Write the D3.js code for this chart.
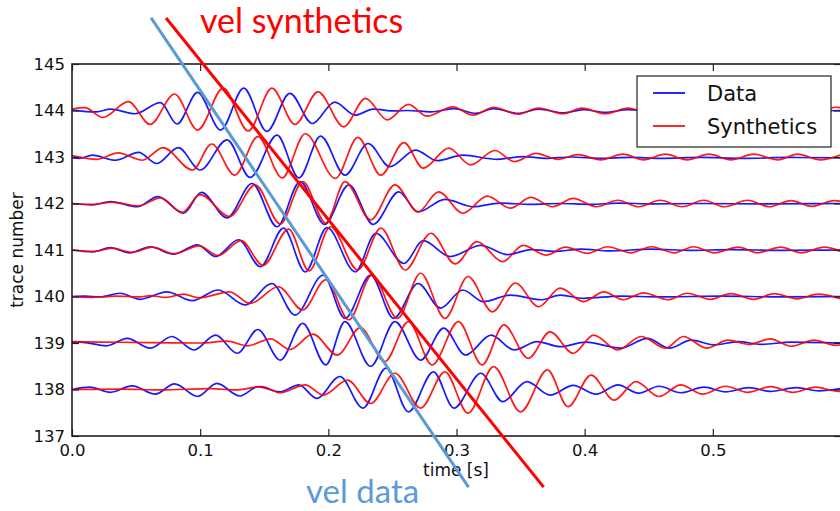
<!DOCTYPE html>
<html>
<head>
<meta charset="utf-8">
<script src="https://cdn.jsdelivr.net/npm/d3@7"></script>
<style>
  body { margin: 0; background: #fff; }
  svg { display: block; }
</style>
</head>
<body>
<svg id="chart" width="840" height="511"></svg>
<script>
// ---- data -------------------------------------------------------------
const traceNumbers = [144, 143, 142, 141, 140, 139, 138];
const xTickValues = [0.0, 0.1, 0.2, 0.3, 0.4, 0.5];
const yTickValues = [137, 138, 139, 140, 141, 142, 143, 144, 145];
const seriesNames = ["Data", "Synthetics"];

// waveform turning points: [time (s), amplitude (trace units)]
const data144 = [[0,0.01],[0.019,-0.03],[0.030,0.03],[0.049,-0.07],[0.069,0.17],[0.082,-0.29],[0.098,0.39],[0.116,-0.42],[0.134,0.48],[0.152,-0.45],[0.170,0.37],[0.1875,-0.28],[0.205,0.18],[0.221,-0.10],[0.235,0.03],[0.252,-0.01],[0.262,0.0],[0.280,-0.03],[0.298,0.04],[0.315,-0.06],[0.329,0.04],[0.348,-0.06],[0.364,0.03],[0.384,-0.05],[0.399,0.02],[0.416,-0.04],[0.434,0.02],[0.452,-0.02],[0.475,0.01],[0.506,-0.01],[0.5375,0.01],[0.569,-0.01],[0.6,0.0]];
const synth144 = [[0,0.03],[0.010,0.06],[0.024,-0.15],[0.044,0.19],[0.061,-0.30],[0.080,0.355],[0.098,-0.42],[0.118,0.48],[0.1375,-0.44],[0.156,0.48],[0.174,-0.30],[0.192,0.40],[0.212,-0.35],[0.229,0.26],[0.246,-0.20],[0.2625,0.13],[0.277,-0.12],[0.297,0.08],[0.313,-0.10],[0.329,0.07],[0.348,-0.08],[0.364,0.05],[0.383,-0.07],[0.398,0.05],[0.416,-0.07],[0.434,0.05],[0.450,-0.06],[0.4665,0.05],[0.483,-0.06],[0.499,0.05],[0.515,-0.06],[0.5315,0.05],[0.548,-0.05],[0.564,0.05],[0.580,-0.05],[0.596,0.07],[0.6,0.06]];

const data143 = [[0,-0.02],[0.006,-0.03],[0.016,0.04],[0.034,-0.07],[0.052,0.10],[0.066,-0.14],[0.083,0.20],[0.100,-0.28],[0.121,0.37],[0.139,-0.44],[0.160,0.47],[0.177,-0.45],[0.194,0.45],[0.213,-0.39],[0.231,0.29],[0.248,-0.21],[0.268,0.15],[0.285,-0.08],[0.305,0.04],[0.332,-0.05],[0.352,0.01],[0.370,-0.03],[0.389,0.0],[0.4125,-0.03],[0.436,-0.01],[0.459,-0.03],[0.491,-0.01],[0.522,-0.03],[0.561,-0.01],[0.6,-0.02]];
const synth143 = [[0,0.03],[0.0195,-0.05],[0.036,0.09],[0.055,-0.07],[0.071,0.20],[0.094,-0.28],[0.109,0.28],[0.127,-0.39],[0.145,0.44],[0.164,-0.45],[0.182,0.50],[0.2055,-0.46],[0.223,0.42],[0.241,-0.39],[0.259,0.31],[0.274,-0.24],[0.294,0.19],[0.311,-0.17],[0.330,0.14],[0.345,-0.10],[0.362,0.08],[0.379,-0.05],[0.395,0.05],[0.4125,-0.06],[0.430,0.06],[0.446,-0.06],[0.463,0.06],[0.480,-0.06],[0.497,0.06],[0.514,-0.06],[0.532,0.06],[0.551,-0.06],[0.566,0.06],[0.584,-0.06],[0.6,0.05]];

const data142 = [[0,0],[0.016,-0.03],[0.030,0.04],[0.051,-0.07],[0.067,0.15],[0.087,-0.21],[0.101,0.24],[0.121,-0.31],[0.1405,0.43],[0.160,-0.50],[0.178,0.47],[0.197,-0.45],[0.216,0.40],[0.235,-0.45],[0.255,0.25],[0.270,-0.18],[0.291,0.09],[0.313,-0.07],[0.334,0.01],[0.358,-0.02],[0.381,0.0],[0.405,-0.02],[0.426,0.01],[0.452,-0.01],[0.491,0.0],[0.5375,-0.01],[0.6,0]];
const synth142 = [[0,0],[0.016,-0.02],[0.031,0.03],[0.052,-0.05],[0.069,0.12],[0.086,-0.19],[0.100,0.19],[0.123,-0.28],[0.143,0.40],[0.1625,-0.44],[0.180,0.47],[0.198,-0.42],[0.213,0.47],[0.233,-0.35],[0.252,0.40],[0.270,-0.18],[0.286,0.25],[0.305,-0.21],[0.324,0.16],[0.342,-0.10],[0.358,0.13],[0.375,-0.07],[0.391,0.11],[0.409,-0.07],[0.426,0.07],[0.442,-0.07],[0.459,0.07],[0.476,-0.07],[0.493,0.07],[0.509,-0.07],[0.527,0.07],[0.544,-0.07],[0.561,0.06],[0.577,-0.06],[0.595,0.06],[0.6,0.05]];

const data141 = [[0,0],[0.016,-0.04],[0.030,0.05],[0.045,-0.06],[0.061,0.07],[0.079,-0.09],[0.098,0.11],[0.112,-0.14],[0.130,0.22],[0.147,-0.36],[0.165,0.47],[0.182,-0.47],[0.199,0.48],[0.221,-0.47],[0.237,0.36],[0.259,-0.29],[0.274,0.20],[0.295,-0.14],[0.319,0.10],[0.340,-0.10],[0.358,0.01],[0.377,-0.03],[0.397,0.02],[0.420,-0.02],[0.452,0.02],[0.483,-0.01],[0.514,0.01],[0.553,-0.01],[0.6,0]];
const synth141 = [[0,0],[0.018,-0.03],[0.031,0.04],[0.047,-0.05],[0.0625,0.06],[0.080,-0.08],[0.099,0.09],[0.114,-0.12],[0.132,0.20],[0.149,-0.33],[0.169,0.45],[0.185,-0.45],[0.2016,0.50],[0.223,-0.43],[0.241,0.47],[0.260,-0.43],[0.280,0.36],[0.299,-0.30],[0.316,0.18],[0.336,-0.25],[0.352,0.10],[0.370,-0.11],[0.385,0.06],[0.402,-0.07],[0.418,0.07],[0.436,-0.06],[0.452,0.07],[0.470,-0.06],[0.485,0.07],[0.501,-0.06],[0.520,0.06],[0.535,-0.06],[0.553,0.06],[0.569,-0.06],[0.587,0.06],[0.6,-0.03]];

const data140 = [[0,0],[0.010,0.01],[0.022,-0.01],[0.0375,0.07],[0.053,-0.06],[0.074,0.10],[0.094,-0.09],[0.114,0.14],[0.135,-0.18],[0.156,0.28],[0.174,-0.40],[0.196,0.46],[0.213,-0.47],[0.233,0.46],[0.251,-0.47],[0.270,0.28],[0.2875,-0.25],[0.305,0.14],[0.321,-0.11],[0.342,0.03],[0.366,-0.07],[0.381,0.03],[0.399,-0.04],[0.428,0.01],[0.459,-0.01],[0.506,0.01],[0.553,-0.01],[0.6,0]];
const synth140 = [[0,0],[0.014,-0.02],[0.034,0.01],[0.053,-0.01],[0.061,0.02],[0.073,-0.02],[0.087,0.05],[0.099,-0.03],[0.123,0.10],[0.139,-0.15],[0.161,0.21],[0.180,-0.29],[0.198,0.36],[0.216,-0.50],[0.234,0.46],[0.254,-0.47],[0.272,0.50],[0.291,-0.47],[0.309,0.43],[0.328,-0.33],[0.346,0.29],[0.364,-0.22],[0.381,0.18],[0.399,-0.11],[0.415,0.10],[0.430,-0.07],[0.446,0.08],[0.465,-0.07],[0.480,0.07],[0.498,-0.06],[0.514,0.06],[0.532,-0.06],[0.548,0.06],[0.566,-0.05],[0.582,0.05],[0.6,-0.05]];

const data139 = [[0,0.02],[0.006,0.02],[0.027,-0.06],[0.043,0.10],[0.061,-0.11],[0.078,0.14],[0.095,-0.15],[0.112,0.17],[0.129,-0.22],[0.145,0.29],[0.1625,-0.37],[0.180,0.42],[0.198,-0.47],[0.213,0.46],[0.233,-0.50],[0.252,0.46],[0.272,-0.37],[0.290,0.32],[0.307,-0.26],[0.327,0.17],[0.345,-0.15],[0.363,0.03],[0.381,-0.08],[0.401,0.02],[0.428,-0.11],[0.449,0.10],[0.466,-0.11],[0.483,0.06],[0.501,-0.04],[0.520,0.03],[0.5375,-0.03],[0.561,0.02],[0.6,0]];
const synth139 = [[0,0.03],[0.022,0.02],[0.061,0.01],[0.100,0.0],[0.121,0.04],[0.137,-0.06],[0.155,0.09],[0.170,-0.14],[0.188,0.19],[0.207,-0.26],[0.225,0.33],[0.244,-0.40],[0.2625,0.46],[0.281,-0.47],[0.3015,0.46],[0.320,-0.47],[0.337,0.39],[0.356,-0.33],[0.373,0.24],[0.391,-0.22],[0.407,0.17],[0.426,-0.15],[0.444,0.14],[0.463,-0.11],[0.477,0.14],[0.495,-0.11],[0.512,0.06],[0.528,-0.03],[0.545,0.09],[0.561,-0.07],[0.579,0.06],[0.596,-0.05],[0.6,-0.04]];

const data138 = [[0,0],[0.014,0.05],[0.030,-0.06],[0.047,0.08],[0.065,-0.10],[0.080,0.12],[0.098,-0.15],[0.113,0.13],[0.131,-0.14],[0.145,0.06],[0.1625,-0.05],[0.177,0.10],[0.191,-0.19],[0.209,0.28],[0.227,-0.40],[0.245,0.46],[0.2625,-0.48],[0.282,0.38],[0.298,-0.40],[0.319,0.35],[0.336,-0.26],[0.355,0.17],[0.373,-0.12],[0.391,0.09],[0.409,-0.10],[0.426,0.10],[0.442,-0.08],[0.458,0.07],[0.475,-0.07],[0.493,0.05],[0.510,-0.05],[0.528,0.04],[0.545,-0.04],[0.565,0.04],[0.583,-0.03],[0.6,0.02]];
const synth138 = [[0,0],[0.0375,0.01],[0.069,-0.01],[0.108,0.02],[0.127,-0.01],[0.148,0.06],[0.1625,-0.07],[0.182,0.10],[0.196,-0.12],[0.215,0.20],[0.233,-0.30],[0.252,0.35],[0.272,-0.40],[0.291,0.38],[0.309,-0.51],[0.329,0.49],[0.350,-0.48],[0.371,0.42],[0.387,-0.37],[0.405,0.31],[0.423,-0.23],[0.440,0.17],[0.458,-0.15],[0.475,0.10],[0.492,-0.10],[0.510,0.07],[0.527,-0.06],[0.545,0.06],[0.5625,-0.06],[0.580,0.05],[0.598,-0.04],[0.6,-0.04]];

const dataTraces = [data144, data143, data142, data141, data140, data139, data138];
const synthTraces = [synth144, synth143, synth142, synth141, synth140, synth139, synth138];

// hand-drawn move-out guides: [time (s), trace]
const velSynthGuide = [[0.0734, 145.99], [0.368, 135.9]];
const velDataGuide = [[0.0617, 145.99], [0.3094, 135.9]];

// ---- layout -----------------------------------------------------------
const plot = { left: 72, right: 841, top: 64, bottom: 436 };
const colData = "#0000ff", colSynth = "#ff0000";
const colGuideBlue = "#5b9bd5", colGuideRed = "#ff0000";
const tickFont = "DejaVu Sans, sans-serif";
const noteFont = "Lato, sans-serif";

const svg = d3.select("#chart");

const x = d3.scaleLinear().domain([0, 0.6]).range([plot.left, plot.right]);
const y = d3.scaleLinear().domain([137, 145]).range([plot.bottom, plot.top]);

svg.append("defs").append("clipPath").attr("id", "plotClip")
  .append("rect")
  .attr("x", plot.left).attr("y", plot.top)
  .attr("width", plot.right - plot.left).attr("height", plot.bottom - plot.top);

// ---- traces -----------------------------------------------------------
const traceLayer = svg.append("g").attr("clip-path", "url(#plotClip)");

traceNumbers.forEach((tn, i) => {
  const line = d3.line()
    .x(d => x(d[0]))
    .y(d => y(tn + d[1]))
    .curve(d3.curveMonotoneX);
  traceLayer.append("path")
    .datum(dataTraces[i])
    .attr("d", line)
    .attr("fill", "none")
    .attr("stroke", colData)
    .attr("stroke-width", 1.7)
    .attr("stroke-opacity", 0.9);
  traceLayer.append("path")
    .datum(synthTraces[i])
    .attr("d", line)
    .attr("fill", "none")
    .attr("stroke", colSynth)
    .attr("stroke-width", 1.7)
    .attr("stroke-opacity", 0.9);
});

// ---- axes (matplotlib style: inward ticks, closed frame) -------------
const tickLen = 7;

const xAxisB = svg.append("g")
  .attr("transform", `translate(0,${plot.bottom})`)
  .call(d3.axisBottom(x).tickValues(xTickValues).tickFormat(d3.format(".1f"))
        .tickSizeInner(-tickLen).tickSizeOuter(0).tickPadding(8));
const xAxisT = svg.append("g")
  .attr("transform", `translate(0,${plot.top})`)
  .call(d3.axisTop(x).tickValues(xTickValues).tickFormat(""))
  .call(g => g.selectAll(".tick line").attr("y2", tickLen));
const yAxisL = svg.append("g")
  .attr("transform", `translate(${plot.left},0)`)
  .call(d3.axisLeft(y).tickValues(yTickValues).tickFormat(d3.format("d"))
        .tickSizeInner(-tickLen).tickSizeOuter(0).tickPadding(7));
const yAxisR = svg.append("g")
  .attr("transform", `translate(${plot.right},0)`)
  .call(d3.axisRight(y).tickValues(yTickValues).tickFormat(""))
  .call(g => g.selectAll(".tick line").attr("x2", -tickLen));

[xAxisB, xAxisT, yAxisL, yAxisR].forEach(g => {
  g.select(".domain").remove();
  g.selectAll(".tick line").attr("stroke", "#222").attr("stroke-width", 1.2);
  g.selectAll(".tick text")
    .attr("fill", "#111")
    .style("font-family", tickFont)
    .style("font-size", "16.5px");
});

// frame
svg.append("rect")
  .attr("x", plot.left).attr("y", plot.top)
  .attr("width", plot.right - plot.left).attr("height", plot.bottom - plot.top)
  .attr("fill", "none").attr("stroke", "#222").attr("stroke-width", 1.6);

// axis titles
svg.append("text")
  .attr("x", (plot.left + 840) / 2).attr("y", 476)
  .attr("text-anchor", "middle")
  .style("font-family", tickFont).style("font-size", "17px").attr("fill", "#111")
  .text("time [s]");
svg.append("text")
  .attr("transform", `translate(23,${(plot.top + plot.bottom) / 2}) rotate(-90)`)
  .attr("text-anchor", "middle")
  .style("font-family", tickFont).style("font-size", "17px").attr("fill", "#111")
  .text("trace number");

// ---- legend -----------------------------------------------------------
const legend = svg.append("g").attr("transform", "translate(637,76)");
legend.append("rect")
  .attr("width", 194).attr("height", 71)
  .attr("fill", "#fff").attr("stroke", "#222").attr("stroke-width", 1.2);
[colData, colSynth].forEach((c, i) => {
  const yy = 17 + i * 33;
  legend.append("line")
    .attr("x1", 16).attr("x2", 48).attr("y1", yy).attr("y2", yy)
    .attr("stroke", c).attr("stroke-width", 1.7);
  legend.append("text")
    .attr("x", 70).attr("y", yy + 7.5)
    .style("font-family", tickFont).style("font-size", "21px").attr("fill", "#111")
    .text(seriesNames[i]);
});

// ---- move-out guides and their labels --------------------------------
const guide = d3.line().x(d => x(d[0])).y(d => y(d[1]));
svg.append("path").attr("d", guide(velDataGuide))
  .attr("stroke", colGuideBlue).attr("stroke-width", 3).attr("fill", "none");
svg.append("path").attr("d", guide(velSynthGuide))
  .attr("stroke", colGuideRed).attr("stroke-width", 3).attr("fill", "none");

svg.append("text")
  .attr("x", 200).attr("y", 33)
  .style("font-family", noteFont).style("font-size", "34px")
  .attr("fill", colGuideRed)
  .text("vel synthetics");
svg.append("text")
  .attr("x", 306).attr("y", 503)
  .style("font-family", noteFont).style("font-size", "33px")
  .attr("fill", colGuideBlue)
  .text("vel data");
</script>
</body>
</html>
